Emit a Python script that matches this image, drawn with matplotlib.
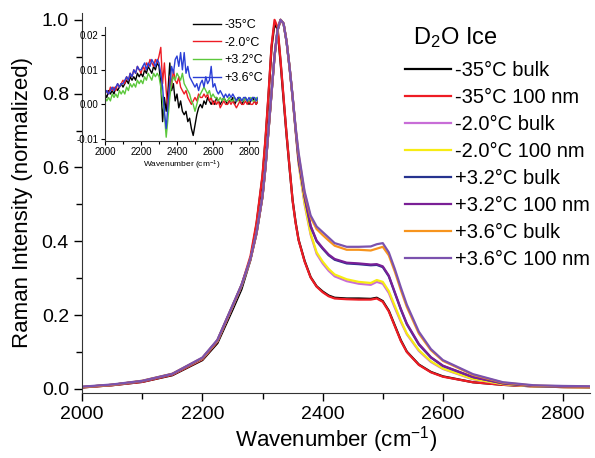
import numpy as np
import matplotlib
matplotlib.use("Agg")
import matplotlib.pyplot as plt
from matplotlib.ticker import MultipleLocator

plt.rcParams['font.family'] = ['Liberation Sans', 'DejaVu Sans']
plt.rcParams['mathtext.fontset'] = 'custom'
plt.rcParams['mathtext.rm'] = 'Liberation Sans'
plt.rcParams['mathtext.default'] = 'regular'
plt.rcParams['axes.unicode_minus'] = False

# main spectra (normalized)
wn = [2000, 2050, 2100, 2150, 2200, 2225, 2250, 2265, 2280, 2290, 2300, 2305,
      2310, 2315, 2320, 2325, 2330, 2335, 2340, 2345, 2350, 2355, 2360, 2370,
      2380, 2390, 2400, 2410, 2420, 2440, 2460, 2480, 2490, 2500, 2510, 2520,
      2530, 2540, 2560, 2580, 2600, 2650, 2700, 2750, 2800, 2850]

m35_bulk = [.004, .010, .019, .037, .078, .124, .214, .270, .350, .445, .575, .675,
            .795, .925, .990, .975, .885, .785, .688, .598, .512, .452, .404, .347,
            .303, .278, .264, .253, .247, .245, .245, .244, .247, .238, .212, .172,
            .132, .101, .066, .046, .034, .018, .011, .007, .005, .004]
m35_nano = [.004, .010, .019, .038, .080, .128, .222, .280, .360, .450, .580, .680,
            .800, .930, 1.00, .980, .890, .790, .690, .600, .510, .450, .403, .345,
            .302, .277, .262, .251, .245, .243, .242, .242, .245, .236, .210, .170,
            .130, .100, .065, .045, .033, .018, .011, .007, .005, .004]
m2_bulk = [.005, .011, .021, .040, .082, .130, .222, .278, .350, .420, .520, .600,
           .700, .800, .900, .970, 1.00, .990, .940, .870, .790, .700, .610, .500,
           .418, .366, .340, .320, .305, .292, .285, .282, .290, .285, .260, .220,
           .182, .148, .103, .073, .054, .026, .013, .007, .005, .004]
m2_nano = [.005, .011, .021, .040, .082, .130, .223, .279, .351, .421, .521, .601,
           .701, .801, .901, .971, 1.00, .990, .940, .870, .791, .702, .612, .503,
           .421, .370, .345, .325, .310, .297, .290, .287, .295, .290, .265, .225,
           .185, .150, .105, .075, .055, .027, .013, .007, .005, .004]
p32_bulk = [.005, .011, .021, .040, .083, .131, .224, .280, .352, .422, .522, .602,
            .702, .802, .902, .972, 1.00, .990, .941, .871, .792, .704, .620, .520,
            .440, .400, .380, .362, .350, .340, .338, .335, .336, .330, .305, .260,
            .215, .175, .120, .085, .062, .032, .015, .008, .006, .005]
p32_nano = [.005, .011, .021, .040, .083, .131, .224, .280, .352, .422, .522, .602,
            .702, .802, .902, .972, 1.00, .990, .941, .871, .792, .704, .622, .522,
            .442, .402, .382, .364, .352, .342, .340, .337, .338, .332, .307, .262,
            .217, .177, .122, .086, .063, .032, .015, .008, .006, .005]
p36_bulk = [.005, .011, .022, .041, .084, .132, .225, .281, .352, .422, .522, .602,
            .702, .802, .902, .972, 1.00, .990, .942, .872, .792, .708, .635, .530,
            .465, .433, .417, .402, .388, .377, .377, .375, .380, .385, .362, .318,
            .268, .222, .150, .105, .076, .038, .017, .009, .007, .006]
p36_nano = [.006, .012, .022, .041, .085, .133, .226, .282, .353, .423, .523, .603,
            .703, .803, .903, .973, 1.00, .990, .942, .872, .793, .710, .640, .535,
            .470, .440, .425, .410, .395, .385, .385, .386, .392, .395, .370, .325,
            .275, .228, .155, .108, .078, .040, .018, .010, .008, .007]

main_labels = ['-35°C bulk', '-35°C 100 nm', '-2.0°C bulk', '-2.0°C 100 nm',
               '+3.2°C bulk', '+3.2°C 100 nm', '+3.6°C bulk', '+3.6°C 100 nm']
main_colors = ['#000000', '#ee1c24', '#c86dd7', '#f7ec13',
               '#26338f', '#7a1f96', '#f7941d', '#7b52ae']
main_series = [m35_bulk, m35_nano, m2_bulk, m2_nano,
               p32_bulk, p32_nano, p36_bulk, p36_nano]

# inset: difference spectra
ins_wn = np.arange(2000, 2851, 10)
d_m35 = [.003, .002, .004, .003, .004, .003, .005, .004, .005, .006,
         .005, .006, .007, .006, .008, .007, .008, .007, .009, .008,
         .009, .008, .010, .009, .011, .010, .009, .011, .010, .012,
         .011, .006, -.005, .002, -.002, .004, .012, .004, .006, .001,
         .003, -.001, .001, -.002, -.003, -.002, -.005, -.004, -.007, -.009,
         -.006, -.003, -.001, .000, -.001, .001, .000, .002, .001, .000,
         .001, .000, .002, .001, .000, .001, .002, .001, .000, .001,
         .001, .002, .000, .001, .002, .001, .000, .001, .002, .001,
         .000, .001, .002, .001, .000, .001]
d_m2 = [.003, .004, .003, .005, .004, .005, .004, .006, .005, .006,
        .007, .006, .008, .007, .009, .008, .010, .009, .011, .010,
        .009, .011, .010, .012, .011, .013, .012, .011, .013, .012,
        .014, .0165, .006, .012, .004, -.002, .008, .005, .010, .007,
        .006, .008, .005, .004, .003, .004, .002, .001, .000, .001,
        .002, .001, .003, .002, .002, .003, .002, .003, .001, .002,
        .000, .001, .000, .001, -.001, .000, .001, .000, .000, .001,
        .000, .001, .000, -.001, .000, .001, .000, .000, .001, .000,
        .001, .000, .000, .001, .000, .001]
d_p32 = [.002, .001, .002, .001, .003, .002, .003, .002, .004, .003,
         .004, .003, .005, .004, .006, .005, .006, .005, .007, .006,
         .007, .006, .008, .007, .009, .008, .007, .009, .008, .009,
         .008, .005, .001, -.003, -.0095, -.004, .002, .006, .008, .007,
         .009, .008, .007, .009, .006, .005, .004, .003, .001, .000,
         -.002, .000, .002, .003, .004, .005, .004, .003, .004, .002,
         .003, .002, .002, .001, .002, .001, .002, .001, .001, .002,
         .001, .001, .002, .001, .001, .002, .001, .001, .002, .001,
         .001, .002, .001, .001, .002, .001]
d_p36 = [.003, .004, .003, .004, .005, .004, .005, .006, .005, .006,
         .006, .007, .008, .007, .009, .008, .010, .009, .011, .010,
         .010, .011, .012, .010, .012, .011, .013, .012, .011, .013,
         .012, .009, .005, -.002, -.007, .000, .006, .011, .009, .013,
         .014, .011, .015, .010, .015, .009, .011, .008, .007, .006,
         .005, .006, .004, .006, .007, .005, .008, .006, .007, .011,
         .005, .006, .004, .003, .004, .003, .002, .003, .002, .003,
         .002, .003, .002, .001, .002, .002, .001, .002, .002, .001,
         .002, .001, .002, .002, .001, .002]
ins_labels = ['-35°C', '-2.0°C', '+3.2°C', '+3.6°C']
ins_colors = ['#000000', '#ee1c24', '#5cc83c', '#2b3fd6']
ins_series = [d_m35, d_m2, d_p32, d_p36]

fig = plt.figure(figsize=(5.95, 4.58), dpi=100)
ax = fig.add_axes([0.138, 0.142, 0.854, 0.830])

for y, c, lab in zip(main_series, main_colors, main_labels):
    ax.plot(wn, y, color=c, lw=1.6, label=lab)

ax.set_xlim(2000, 2845)
ax.set_ylim(-0.011, 1.019)
ax.xaxis.set_major_locator(MultipleLocator(200))
ax.xaxis.set_minor_locator(MultipleLocator(100))
ax.yaxis.set_major_locator(MultipleLocator(0.2))
ax.yaxis.set_minor_locator(MultipleLocator(0.1))
ax.tick_params(which='major', direction='out', length=6, width=1, labelsize=14)
ax.tick_params(which='minor', direction='out', length=4, width=1)
for s in ['top', 'right']:
    ax.spines[s].set_visible(False)
for s in ['left', 'bottom']:
    ax.spines[s].set_color('#333333')
ax.set_xlabel('Wavenumber (cm$^{-1}$)', fontsize=16, labelpad=1)
ax.set_ylabel('Raman Intensity (normalized)', fontsize=16, labelpad=6)

fig.text(413 / 595, 1 - 38 / 458, 'D$_2$O Ice', fontsize=17, va='center', ha='left')
ax.legend(loc='upper left', bbox_to_anchor=(405 / 595, 1 - 61 / 458),
          bbox_transform=fig.transFigure, frameon=False, fontsize=14.5,
          borderpad=0, borderaxespad=0, handlelength=2.3, handletextpad=0.2,
          labelspacing=0.4)

# inset
ins = fig.add_axes([105 / 595, 1 - 141 / 458, 153 / 595, 114 / 458])
for y, c, lab in zip(ins_series, ins_colors, ins_labels):
    ins.plot(ins_wn, y, color=c, lw=1.0, label=lab)
ins.set_xlim(2000, 2850)
ins.set_ylim(-0.0106, 0.0224)
ins.xaxis.set_major_locator(MultipleLocator(200))
ins.xaxis.set_minor_locator(MultipleLocator(100))
ins.yaxis.set_major_locator(MultipleLocator(0.01))
ins.yaxis.set_major_formatter(plt.FormatStrFormatter('%.2f'))
ins.tick_params(which='major', direction='out', length=3, width=0.8, labelsize=7, pad=1.5)
ins.tick_params(which='minor', direction='out', length=2, width=0.8)
for s in ['top', 'right']:
    ins.spines[s].set_visible(False)
for s in ['left', 'bottom']:
    ins.spines[s].set_color('#333333')
    ins.spines[s].set_linewidth(0.8)
ins.patch.set_alpha(0)
ins.set_xlabel('Wavenumber (cm$^{-1}$)', fontsize=6, labelpad=1)
ins.legend(loc='upper left', bbox_to_anchor=(193 / 595, 1 - 19 / 458),
           bbox_transform=fig.transFigure, frameon=False, fontsize=9,
           borderpad=0, borderaxespad=0, handlelength=2.2, handletextpad=0.3,
           labelspacing=0.45)

fig.savefig('out.png', dpi=100)
